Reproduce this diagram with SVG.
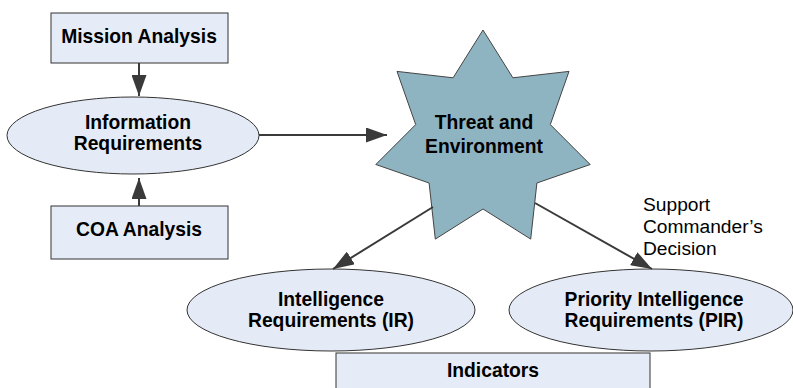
<svg xmlns="http://www.w3.org/2000/svg" width="793" height="388" viewBox="0 0 793 388">
<style>
.box{fill:#e6ecf7;stroke:#333;stroke-width:1}
.ell{fill:#e5ebf6;stroke:#333;stroke-width:1}
.star{fill:#8fb4c1;stroke:#444;stroke-width:1}
.t{font-family:"Liberation Sans",Arial,sans-serif;font-size:19.3px;font-weight:bold;fill:#000;text-anchor:middle}
.n{font-family:"Liberation Sans",Arial,sans-serif;font-size:19.2px;fill:#000}
.c{stroke:#3a3a3a;stroke-width:2;fill:none;marker-end:url(#ah)}
</style>
<defs>
<marker id="ah" viewBox="0 0 21 15" refX="21" refY="7.5" markerWidth="21" markerHeight="15" markerUnits="userSpaceOnUse" orient="auto">
<path d="M0,0 L21,7.5 L0,15 Z" fill="#3a3a3a"/>
</marker>
</defs>
<rect width="793" height="388" fill="#fff"/>
<g id="mission">
<rect class="box" x="51" y="13" width="177" height="50"/>
<text class="t" x="139" y="43">Mission Analysis</text>
</g>
<g id="info">
<ellipse class="ell" cx="133" cy="135.5" rx="126" ry="38.5"/>
<text class="t" x="138" y="129">Information</text>
<text class="t" x="138" y="150">Requirements</text>
</g>
<g id="coa">
<rect class="box" x="51" y="206" width="177" height="53"/>
<text class="t" x="139" y="236">COA Analysis</text>
</g>
<g id="threat">
<path class="star" d="M483,30 L512.9,77.8 L569,71.4 L550.3,124.6 L590.2,164.5 L536.9,183 L530.7,239.1 L483,209 L435.3,239.1 L429.1,183 L375.8,164.5 L415.7,124.6 L397,71.4 L453.1,77.8 Z"/>
<text class="t" x="484" y="129">Threat and</text>
<text class="t" x="484" y="153">Environment</text>
</g>
<g id="ir">
<ellipse class="ell" cx="331" cy="310" rx="144" ry="41"/>
<text class="t" x="331" y="306">Intelligence</text>
<text class="t" x="331" y="327">Requirements (IR)</text>
</g>
<g id="pir">
<ellipse class="ell" cx="651" cy="310" rx="142" ry="41"/>
<text class="t" x="654" y="306">Priority Intelligence</text>
<text class="t" x="654" y="327">Requirements (PIR)</text>
</g>
<g id="indicators">
<rect class="box" x="336" y="353" width="314" height="50"/>
<text class="t" x="493" y="377">Indicators</text>
</g>
<g id="note">
<text class="n" x="643" y="211">Support</text>
<text class="n" x="643" y="233">Commander’s</text>
<text class="n" x="643" y="255">Decision</text>
</g>
<g id="connectors">
<line class="c" x1="139" y1="63" x2="139" y2="96"/>
<line class="c" x1="139" y1="206" x2="139" y2="178"/>
<line class="c" x1="259" y1="135" x2="387" y2="135"/>
<line class="c" x1="433" y1="207" x2="333" y2="269"/>
<line class="c" x1="535" y1="203" x2="652" y2="269"/>
</g>
</svg>
